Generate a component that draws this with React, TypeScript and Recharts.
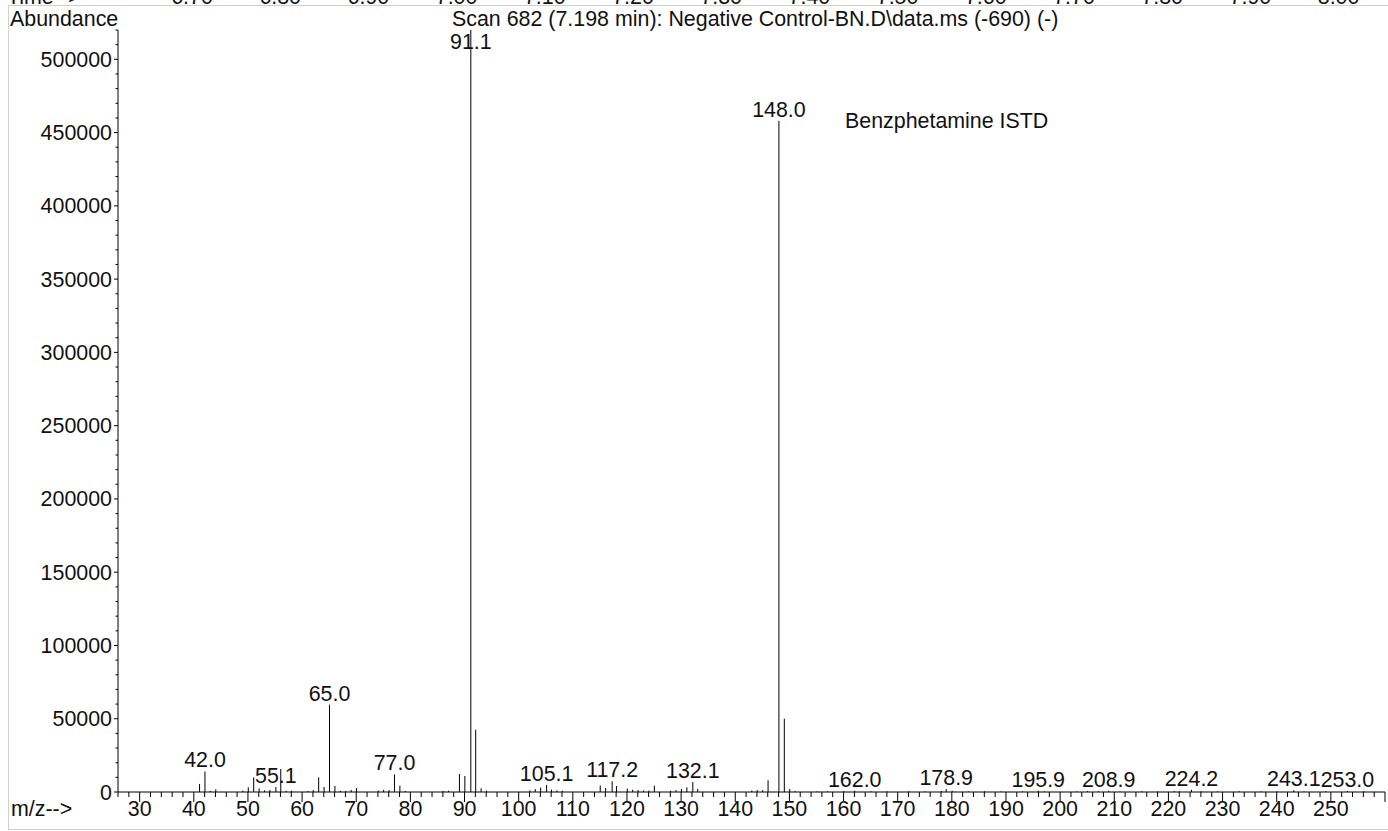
import { Bar, ComposedChart, XAxis, YAxis } from "recharts";

const FONT = '"Liberation Sans", Arial, Helvetica, sans-serif';
const FS = 21.4;

// m/z of each line in the spectrum and its abundance (counts)
const MZ = [
  41, 42, 43, 44, 49, 50, 51, 52, 53, 54, 55.1, 56, 57, 58, 61, 62, 63, 64, 65, 66,
  67, 68, 69, 70, 74, 75, 76, 77, 78, 79, 86, 87, 89, 90, 91.1, 92, 93, 94, 102, 103,
  104, 105.1, 106, 107, 108, 115, 116, 117.2, 118, 120, 121, 122, 123, 124, 125, 128, 129, 130,
  131, 132.1, 133, 143, 144, 145, 146, 148, 149, 150, 151, 155, 157, 160, 162, 165, 168, 172,
  175, 178, 178.9, 180, 183, 186, 189, 193, 195.9, 197, 203, 205, 207, 208.9, 211, 215, 218, 221,
  222, 224.2, 226, 229, 233, 237, 240, 243.1, 245, 249, 253, 256,
];
const ABUNDANCE = [
  5500, 14000, 800, 1800, 900, 3200, 10000, 2500, 1100, 1400, 3400, 15700, 800, 900, 700, 1300, 10000, 3400, 59600, 4100,
  800, 700, 1400, 2700, 1000, 1500, 1300, 12000, 4300, 700, 700, 900, 12300, 10900, 520000, 42500, 2500, 900, 1100, 2000,
  3000, 4800, 1600, 1100, 900, 4500, 2700, 7300, 4100, 2300, 1600, 1300, 1100, 1000, 4300, 900, 1300, 2000,
  3200, 6800, 2000, 1000, 1300, 1300, 8000, 458000, 50000, 2000, 600, 400, 500, 600, 900, 500, 400, 500,
  400, 700, 2000, 800, 400, 500, 400, 500, 900, 500, 400, 600, 500, 800, 400, 500, 400, 600,
  500, 1500, 500, 400, 500, 400, 500, 1200, 400, 500, 700, 400,
];
// peaks that carry an m/z label
const LABELED = [42, 55.1, 65, 77, 91.1, 105.1, 117.2, 132.1, 148, 162, 178.9, 195.9, 208.9, 224.2, 243.1, 253];

const X_TICKS = Array.from({ length: 118 }, (_, i) => 26 + i * 2);
const Y_TICKS = Array.from({ length: 53 }, (_, i) => i * 10000);
const TIME_TICKS = ["6.70", "6.80", "6.90", "7.00", "7.10", "7.20", "7.30", "7.40", "7.50", "7.60", "7.70", "7.80", "7.90", "8.00"];

const data = MZ.map((mz, i) => ({
  mz,
  ab: ABUNDANCE[i],
  tag: LABELED.includes(mz) ? mz.toFixed(1) : "",
}));

function PeakLine(props: any) {
  const { x, y, width, height } = props;
  const tag = props.tag ?? props.payload?.tag;
  const cx = x + width / 2;
  let ty = y - 4;
  if (ty < 49) ty = 49;
  return (
    <g>
      <line x1={cx} x2={cx} y1={y} y2={y + height} stroke="#000" strokeWidth={1} />
      {tag ? (
        <text x={cx} y={ty} textAnchor="middle" fontFamily={FONT} fontSize={FS} fill="#111">
          {tag}
        </text>
      ) : null}
    </g>
  );
}

function XTick(props: any) {
  const { x, y, payload } = props;
  const v = payload.value;
  const major = v % 10 === 0;
  return (
    <g>
      <line x1={x} x2={x} y1={y} y2={y + (major ? 10 : 5)} stroke="#000" />
      {major && v !== 260 ? (
        <text x={x} y={y + 24} textAnchor="middle" fontFamily={FONT} fontSize={FS} fill="#111">
          {v}
        </text>
      ) : null}
    </g>
  );
}

function YTick(props: any) {
  const { x, y, payload } = props;
  const v = payload.value;
  const major = v % 50000 === 0;
  return (
    <g>
      <line x1={x - (major ? 4 : 2.5)} x2={x} y1={y} y2={y} stroke="#000" />
      {major ? (
        <text x={x - 6} y={y + 7.5} textAnchor="end" fontFamily={FONT} fontSize={FS} fill="#111">
          {v}
        </text>
      ) : null}
    </g>
  );
}

export default function App() {
  return (
    <div style={{ position: "absolute", left: 0, top: 0, width: 1388, height: 831, background: "#fff", overflow: "hidden" }}>
      <div
        style={{
          position: "absolute",
          left: 8,
          top: 5,
          width: 1400,
          height: 823,
          borderLeft: "1px solid #cfcfcf",
          borderTop: "1px solid #cfcfcf",
          borderBottom: "1px solid #cfcfcf",
        }}
      />
      <ComposedChart
        width={1388}
        height={831}
        data={data}
        margin={{ top: 30, right: 3, bottom: 9, left: 8 }}
        style={{ position: "absolute", left: 0, top: 0 }}
      >
        <XAxis
          dataKey="mz"
          type="number"
          domain={[26, 260]}
          ticks={X_TICKS}
          interval={0}
          height={30}
          tickSize={0}
          tickMargin={0}
          tickLine={false}
          axisLine={{ stroke: "#000" }}
          tick={XTick}
          allowDataOverflow
        />
        <YAxis
          type="number"
          domain={[0, 520000]}
          ticks={Y_TICKS}
          interval={0}
          width={110}
          tickSize={0}
          tickMargin={0}
          tickLine={false}
          axisLine={{ stroke: "#000" }}
          tick={YTick}
          allowDataOverflow
        />
        <Bar dataKey="ab" barSize={1} isAnimationActive={false} shape={PeakLine} />
      </ComposedChart>
      <svg width={1388} height={831} style={{ position: "absolute", left: 0, top: 0, pointerEvents: "none" }}>
        {/* bottom edge of the chromatogram panel above, cut off as in the original */}
        <text x={7} y={4} fontFamily={FONT} fontSize={FS} fill="#111">Time--&gt;</text>
        {TIME_TICKS.map((t, i) => (
          <text key={t} x={192 + i * 88.2} y={4} textAnchor="middle" fontFamily={FONT} fontSize={FS} fill="#111">
            {t}
          </text>
        ))}
        <text x={10} y={26} fontFamily={FONT} fontSize={FS} fill="#111">Abundance</text>
        <text x={452} y={26} fontFamily={FONT} fontSize={FS} fill="#111">
          Scan 682 (7.198 min): Negative Control-BN.D\data.ms (-690) (-)
        </text>
        <text x={845} y={128} fontFamily={FONT} fontSize={FS} fill="#111">Benzphetamine ISTD</text>
        <text x={11} y={816} fontFamily={FONT} fontSize={FS} fill="#111">m/z--&gt;</text>
      </svg>
    </div>
  );
}
